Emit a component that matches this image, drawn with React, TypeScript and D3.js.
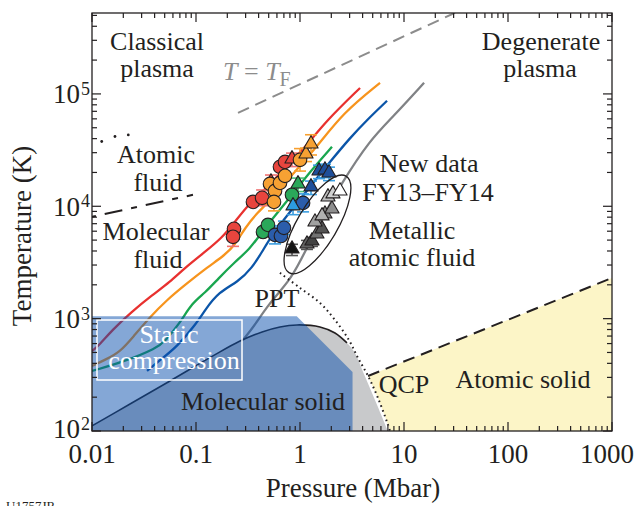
import React from "react";
import * as d3 from "d3";

type Pt = [number, number];

// ---- axes ----
const xTickValues = [0.01, 0.1, 1, 10, 100, 1000];
const xTickLabels = ["0.01", "0.1", "1", "10", "100", "1000"];
const yTickValues = [1e2, 1e3, 1e4, 1e5];
const yTickExponents = ["2", "3", "4", "5"];

// ---- model curves (P in Mbar, T in K) ----
const redCurve: Pt[] = [[0.01, 515], [0.0117, 580], [0.0156, 790], [0.024, 1150], [0.038, 1620], [0.056, 2120], [0.078, 2830], [0.122, 3930], [0.178, 5240], [0.237, 7260], [0.316, 10300], [0.46, 14000], [0.72, 22000], [1.07, 31800], [1.82, 58700], [3.78, 113000]];
const orangeCurve: Pt[] = [[0.01, 379], [0.0133, 429], [0.0186, 505], [0.0248, 687], [0.0361, 1035], [0.0526, 1468], [0.0783, 1995], [0.13, 2884], [0.19, 3690], [0.237, 4530], [0.296, 6430], [0.395, 8910], [0.492, 10720], [0.838, 19050], [1.455, 33800], [2.59, 67900], [5.88, 125600]];
const greenCurve: Pt[] = [[0.01, 342], [0.0199, 411], [0.0422, 548], [0.0504, 632], [0.0702, 916], [0.0916, 1380], [0.122, 1694], [0.163, 2260], [0.237, 3200], [0.33, 4180], [0.432, 5910], [0.515, 7260], [0.838, 12650], [1.248, 20230], [2.03, 33800]];
const blueCurve: Pt[] = [[0.0338, 342], [0.0451, 429], [0.0656, 560], [0.102, 916], [0.122, 1194], [0.166, 1730], [0.254, 2123], [0.345, 2826], [0.432, 3927], [0.538, 5560], [0.802, 8910], [1.248, 14900], [1.94, 24830], [3.03, 40640], [4.41, 58700], [6.87, 86900]];
const grayCurve: Pt[] = [[0.283, 646], [0.369, 879], [0.492, 1324], [0.802, 2212], [1.0, 3200], [1.556, 7260], [2.48, 15800], [4.71, 39000], [7.83, 62500], [15.6, 125600]];

// melting line of molecular solid (last points bound the solid region)
const meltCurve: Pt[] = [[0.01, 111], [0.0232, 174], [0.0562, 279], [0.1455, 466], [0.265, 632], [0.432, 762], [0.642, 844], [0.935, 879], [1.556, 844], [2.17, 746], [2.83, 608], [3.38, 495], [4.04, 335], [5.26, 189], [7.0, 100]];
const meltSolidCount = 11;
// PPT / QCP dotted boundary
const dottedCurve: Pt[] = [[0.642, 2553], [1.0, 1875], [1.556, 1380], [2.17, 973], [2.95, 646], [3.61, 447], [4.51, 309], [5.62, 197], [6.87, 120], [7.33, 100]];
// atomic solid boundary
const atomicSolidLine: Pt[] = [[4.51, 309], [1000, 2300]];
// T = T_F line
const fermiLine: Pt[] = [[0.2535, 67900], [30.9, 527000]];
// molecular/atomic fluid boundary
const fluidBoundary: Pt[] = [[0.01, 8060], [0.0935, 12650]];
const atomicDots: Pt[] = [[0.0124, 37700], [0.01663, 41800], [0.02233, 43200]];
// static compression region
const staticRegion: Pt[] = [[0.01, 1050], [0.93, 1050], [3.2, 335], [3.2, 100], [0.01, 100]];
// ellipse tips around new data
const ellipseTips: Pt[] = [[0.8, 2660], [2.71, 17900]];

// ---- data points ----
const redCircles: Pt[] = [[0.232, 6300], [0.227, 5350], [0.353, 10940], [0.432, 11890], [0.642, 22430], [0.718, 24830]];
const redCircleErr = [0, 0.085, 0, 0.07, 0, 0];
const redTriangles: Pt[] = [[0.526, 16150], [0.838, 25900]];
const redTriangleErr = [0.07, 0.06];
const orangeCircles: Pt[] = [[0.515, 15820], [0.575, 13700], [0.642, 16150], [0.718, 18660], [0.562, 10940], [1.0, 25900]];
const orangeCircleErr = [0, 0, 0, 0, 0.08, 0.1];
const orangeTriangles: Pt[] = [[1.142, 28700], [1.276, 35200]];
const orangeTriangleErr = [0.06, 0.09];
const greenCircles: Pt[] = [[0.441, 5910], [0.492, 6830], [0.838, 12650]];
const greenCircleErr = [0, 0, 0];
const greenTriangles: Pt[] = [[0.957, 15520]];
const greenTriangleErr = [0.06];
const blueCircles: Pt[] = [[0.575, 5560], [0.656, 5440], [0.701, 6430], [1.07, 10720]];
const blueCircleErr = [0.08, 0, 0.06, 0.08];
const lightBlueTriangles: Pt[] = [[0.857, 9890]];
const lightBlueTriangleErr = [0.07];
const darkBlueTriangles: Pt[] = [[1.276, 14600], [1.523, 20230], [1.738, 20650], [1.9, 19420]];
const darkBlueTriangleErr = [0.06, 0.06, 0.06, 0.06];
const newData: Pt[] = [[0.838, 4090], [1.167, 4530], [1.303, 4820], [1.455, 5560], [1.63, 6170], [1.393, 7110], [1.738, 8380], [1.63, 8060], [2.03, 9290], [1.858, 11890], [2.075, 12650], [2.425, 13430]];
const newDataShade = [0.0, 0.33, 0.2, 0.4, 0.27, 0.6, 0.45, 0.67, 0.52, 0.72, 0.8, 1.0];
const newDataErr = [0.05, 0.04, 0.04, 0, 0, 0, 0, 0, 0, 0, 0, 0];

const INK = "#231f20";
const FONT = "'Liberation Serif', 'Times New Roman', serif";

export default function App() {
  const x = d3.scaleLog().domain([0.01, 1000]).range([92, 612]);
  const y = d3.scaleLog().domain([100, 5.25e5]).range([431, 13]);
  const smooth = d3.line<Pt>().x((d) => x(d[0])).y((d) => y(d[1])).curve(d3.curveCatmullRom.alpha(0.5));
  const basis = d3.line<Pt>().x((d) => x(d[0])).y((d) => y(d[1])).curve(d3.curveBasis);
  const straight = d3.line<Pt>().x((d) => x(d[0])).y((d) => y(d[1]));

  const meltArea = smooth(meltCurve) + `L${x(0.01)},${y(100)}Z`;
  const dottedTail = dottedCurve.filter((d) => d[0] >= 4.51).slice().reverse();
  const yellowPts: Pt[] = [atomicSolidLine[0], atomicSolidLine[1], [1000, 100], ...dottedTail];

  const minorX: number[] = [];
  [0.01, 0.1, 1, 10, 100].forEach((d) => { for (let k = 2; k <= 9; k++) minorX.push(d * k); });
  const minorY: number[] = [];
  [100, 1000, 1e4, 1e5].forEach((d) => { for (let k = 2; k <= 9; k++) if (d * k <= 5.25e5) minorY.push(d * k); });

  const [e1, e2] = ellipseTips.map((d) => [x(d[0]), y(d[1])]);
  const ecx = (e1[0] + e2[0]) / 2, ecy = (e1[1] + e2[1]) / 2;
  const erx = Math.hypot(e2[0] - e1[0], e2[1] - e1[1]) / 2 + 2;
  const eang = (Math.atan2(e2[1] - e1[1], e2[0] - e1[0]) * 180) / Math.PI;

  const tri = "M0,-8.2L7.1,4.1L-7.1,4.1Z";

  const errBars = (pts: Pt[], errs: number[], color: string, key: string) =>
    pts.map((d, i) => {
      if (!errs[i]) return null;
      const cx = x(d[0]);
      const y1 = y(d[1] / Math.pow(10, errs[i]));
      const y2 = y(d[1] * Math.pow(10, errs[i]));
      return (
        <g key={key + i} stroke={color} strokeWidth={1.6}>
          <line x1={cx} x2={cx} y1={y1} y2={y2} />
          <line x1={cx - 6} x2={cx + 6} y1={y1} y2={y1} />
          <line x1={cx - 6} x2={cx + 6} y1={y2} y2={y2} />
        </g>
      );
    });

  const circles = (pts: Pt[], fill: string, key: string) =>
    pts.map((d, i) => (
      <circle key={key + i} cx={x(d[0])} cy={y(d[1])} r={6.8} fill={fill} stroke={INK} strokeWidth={1.1} />
    ));
  const triangles = (pts: Pt[], fills: string[] | string, key: string) =>
    pts.map((d, i) => (
      <path key={key + i} d={tri} transform={`translate(${x(d[0])},${y(d[1]) - 1})`}
        fill={Array.isArray(fills) ? fills[i] : fills} stroke={INK} strokeWidth={1.1} strokeLinejoin="round" />
    ));
  const shadeColor = d3.interpolateRgb("#141414", "#ffffff");

  const txt = { fontFamily: FONT, fontSize: 26, fill: INK } as const;

  return (
    <svg width={637} height={506} style={{ position: "absolute", left: 0, top: 0, background: "#fff" }}>
      <defs>
        <clipPath id="plot"><rect x={92} y={13} width={520} height={418} /></clipPath>
      </defs>
      <g clipPath="url(#plot)">
        <path d={straight(yellowPts) + "Z"} fill="#fcf5c7" />
        <path d={meltArea} fill="#c8c9cb" />
        {[["#e8312f", redCurve], ["#f7941d", orangeCurve], ["#19a64f", greenCurve], ["#0b55a8", blueCurve], ["#808285", grayCurve]].map(([c, pts], i) => (
          <path key={"c" + i} d={basis(pts as Pt[]) as string} fill="none" stroke={c as string} strokeWidth={2.3} />
        ))}
        <path d={smooth(meltCurve.slice(0, meltSolidCount)) as string} fill="none" stroke={INK} strokeWidth={1.6} />
        <path d={straight(staticRegion) + "Z"} fill="#0a50ad" fillOpacity={0.5} />
        <path d={smooth(dottedCurve) as string} fill="none" stroke={INK} strokeWidth={2} strokeDasharray="1.6,3.4" />
        <path d={straight(atomicSolidLine) as string} fill="none" stroke={INK} strokeWidth={2} strokeDasharray="12,7" />
        <path d={straight(fermiLine) as string} fill="none" stroke="#8c8c8c" strokeWidth={2} strokeDasharray="12,7" />
        <path d={straight(fluidBoundary) as string} fill="none" stroke={INK} strokeWidth={2} strokeDasharray="6,9,18,9" strokeDashoffset={2} />
        {atomicDots.map((d, i) => <circle key={"ad" + i} cx={x(d[0])} cy={y(d[1])} r={1.4} fill={INK} />)}
      </g>

      {/* static compression label box */}
      <rect x={97} y={320} width={145} height={60} fill="none" stroke="#fff" strokeWidth={1.5} />
      <text {...txt} fill="#fff" x={169} y={343} textAnchor="middle">Static</text>
      <text {...txt} fill="#fff" x={174} y={369} textAnchor="middle">compression</text>

      {/* error bars */}
      {errBars(redCircles, redCircleErr, "#f07272", "re")}
      {errBars(redTriangles, redTriangleErr, "#f07272", "rte")}
      {errBars(orangeCircles, orangeCircleErr, "#f7a030", "oe")}
      {errBars(orangeTriangles, orangeTriangleErr, "#f7a030", "ote")}
      {errBars(greenCircles, greenCircleErr, "#4cbf7a", "ge")}
      {errBars(greenTriangles, greenTriangleErr, "#4cbf7a", "gte")}
      {errBars(blueCircles, blueCircleErr, "#3a9de0", "be")}
      {errBars(lightBlueTriangles, lightBlueTriangleErr, "#3a9de0", "lbe")}
      {errBars(darkBlueTriangles, darkBlueTriangleErr, "#3a9de0", "dbe")}
      {errBars(newData, newDataErr, "#555", "ne")}

      {/* markers */}
      {circles(redCircles, "#e8453e", "rc")}
      {triangles(redTriangles, "#e8453e", "rt")}
      {circles(orangeCircles, "#f7a133", "oc")}
      {triangles(orangeTriangles, "#f7a133", "ot")}
      {circles(greenCircles, "#2aa85a", "gc")}
      {triangles(greenTriangles, "#2aa85a", "gt")}
      {circles(blueCircles, "#2b5dab", "bc")}
      {triangles(lightBlueTriangles, "#2c9ce0", "lbt")}
      {triangles(darkBlueTriangles, "#1f4f9a", "dbt")}
      {triangles(newData, newDataShade.map((s) => shadeColor(s)), "nd")}

      <ellipse cx={ecx} cy={ecy} rx={erx} ry={20} fill="none" stroke={INK} strokeWidth={1.3}
        transform={`rotate(${eang},${ecx},${ecy})`} />

      {/* labels */}
      <text {...txt} x={157} y={50} textAnchor="middle">Classical</text>
      <text {...txt} x={157} y={77} textAnchor="middle">plasma</text>
      <text {...txt} x={541} y={50} textAnchor="middle">Degenerate</text>
      <text {...txt} x={540} y={77} textAnchor="middle">plasma</text>
      <text {...txt} x={223} y={80} fill="#8c8c8c">
        <tspan fontStyle="italic">T</tspan><tspan> = </tspan><tspan fontStyle="italic">T</tspan>
        <tspan fontSize={20} dy={6}>F</tspan>
      </text>
      <text {...txt} x={156} y={163} textAnchor="middle">Atomic</text>
      <text {...txt} x={158} y={191} textAnchor="middle">fluid</text>
      <text {...txt} x={156} y={240} textAnchor="middle">Molecular</text>
      <text {...txt} x={158} y={268} textAnchor="middle">fluid</text>
      <text {...txt} x={429} y={172} textAnchor="middle">New data</text>
      <text {...txt} x={428} y={201} textAnchor="middle">FY13–FY14</text>
      <text {...txt} x={412} y={239} textAnchor="middle">Metallic</text>
      <text {...txt} x={412} y={266} textAnchor="middle">atomic fluid</text>
      <text {...txt} x={277} y={307} textAnchor="middle">PPT</text>
      <text {...txt} x={263} y={410} textAnchor="middle">Molecular solid</text>
      <text {...txt} x={404} y={393} textAnchor="middle">QCP</text>
      <text {...txt} x={523} y={388} textAnchor="middle">Atomic solid</text>

      {/* frame and ticks */}
      <rect x={92} y={13} width={520} height={418} fill="none" stroke={INK} strokeWidth={1.3} />
      <g stroke={INK} strokeWidth={1.2}>
        {xTickValues.map((v, i) => (
          <g key={"xt" + i}>
            <line x1={x(v)} x2={x(v)} y1={431} y2={422} />
            <line x1={x(v)} x2={x(v)} y1={13} y2={22} />
          </g>
        ))}
        {minorX.map((v, i) => (
          <g key={"xm" + i}>
            <line x1={x(v)} x2={x(v)} y1={431} y2={426} />
            <line x1={x(v)} x2={x(v)} y1={13} y2={18} />
          </g>
        ))}
        {yTickValues.map((v, i) => (
          <g key={"yt" + i}>
            <line x1={92} x2={101} y1={y(v)} y2={y(v)} />
            <line x1={612} x2={603} y1={y(v)} y2={y(v)} />
          </g>
        ))}
        {minorY.map((v, i) => (
          <g key={"ym" + i}>
            <line x1={92} x2={97} y1={y(v)} y2={y(v)} />
            <line x1={612} x2={607} y1={y(v)} y2={y(v)} />
          </g>
        ))}
      </g>
      {xTickValues.map((v, i) => (
        <text key={"xl" + i} {...txt} fontSize={27} x={Math.min(x(v), 607)} y={463} textAnchor="middle">{xTickLabels[i]}</text>
      ))}
      {yTickValues.map((v, i) => (
        <g key={"yl" + i}>
          <text {...txt} fontSize={27} x={80} y={y(v) + (i === 0 ? 7 : 9.5)} textAnchor="end">10</text>
          <text {...txt} fontSize={18} x={81} y={y(v) + (i === 0 ? -1.5 : 1)}>{yTickExponents[i]}</text>
        </g>
      ))}
      <text {...txt} fontSize={27} x={353} y={497} textAnchor="middle">Pressure (Mbar)</text>
      <text {...txt} fontSize={27} transform="translate(31,236) rotate(-90)" textAnchor="middle">Temperature (K)</text>
      <text fontFamily={FONT} fontSize={13} fill={INK} x={6} y={510}>U1757JR</text>
    </svg>
  );
}
